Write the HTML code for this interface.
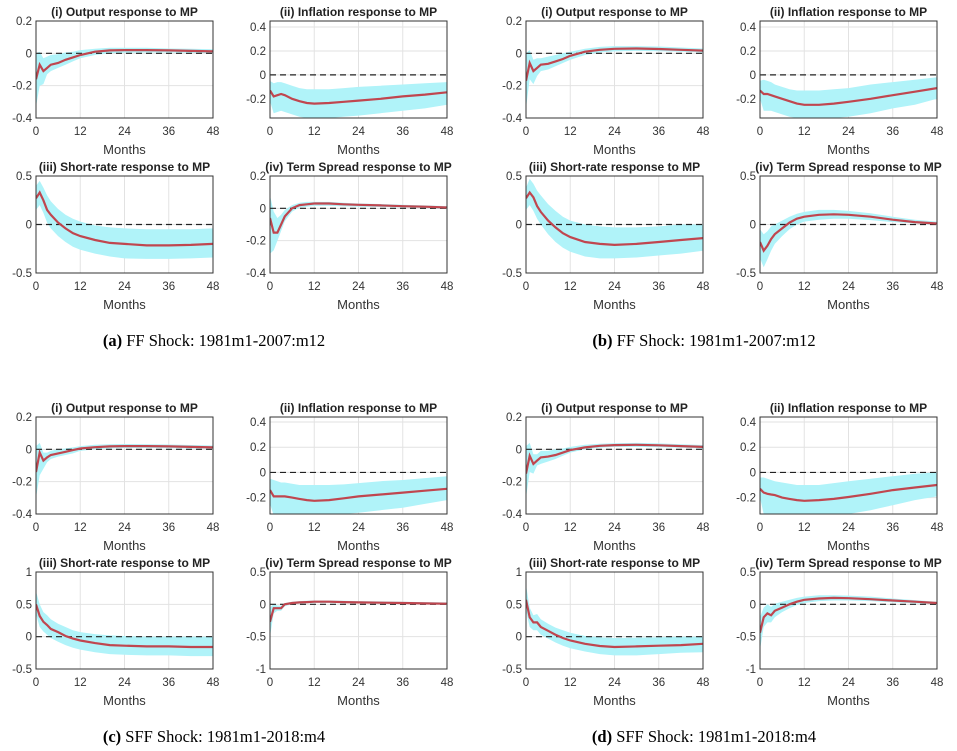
<!DOCTYPE html>
<html><head><meta charset="utf-8">
<style>
body{margin:0;background:#fff;width:957px;height:751px;overflow:hidden}
svg{display:block}
.tt{font:bold 12px "Liberation Sans",sans-serif;fill:#222}
.tk{font:11.5px "Liberation Sans",sans-serif;fill:#333}
.xl{font:13px "Liberation Sans",sans-serif;fill:#333}
.cap{font:16.5px "Liberation Serif",serif;fill:#000}
</style></head>
<body>
<svg id="fig" width="957" height="751"></svg>
<script>
const months=[0,1,2,3,4,6,8,10,12,16,20,24,30,36,42,48];
const titles=["(i) Output response to MP","(ii) Inflation response to MP","(iii) Short-rate response to MP","(iv) Term Spread response to MP"];
const xTicks=[0,12,24,36,48];
const captionsBold=["(a)","(b)","(c)","(d)"];
const captionsText=[" FF Shock: 1981m1-2007:m12"," FF Shock: 1981m1-2007:m12"," SFF Shock: 1981m1-2018:m4"," SFF Shock: 1981m1-2018:m4"];
const ylims=[
 [[-0.4,0.2],[-0.36,0.45],[-0.5,0.5],[-0.4,0.2]],
 [[-0.4,0.2],[-0.36,0.45],[-0.5,0.5],[-0.5,0.5]],
 [[-0.4,0.2],[-0.33,0.44],[-0.5,1],[-1,0.5]],
 [[-0.4,0.2],[-0.33,0.44],[-0.5,1],[-1,0.5]]];
const yticks=[
 [[-0.4,-0.2,0,0.2],[-0.2,0,0.2,0.4],[-0.5,0,0.5],[-0.4,-0.2,0,0.2]],
 [[-0.4,-0.2,0,0.2],[-0.2,0,0.2,0.4],[-0.5,0,0.5],[-0.5,0,0.5]],
 [[-0.4,-0.2,0,0.2],[-0.2,0,0.2,0.4],[-0.5,0,0.5,1],[-1,-0.5,0,0.5]],
 [[-0.4,-0.2,0,0.2],[-0.2,0,0.2,0.4],[-0.5,0,0.5,1],[-1,-0.5,0,0.5]]];
const aMid=[[-0.16,-0.07,-0.11,-0.09,-0.07,-0.06,-0.04,-0.025,-0.01,0.01,0.018,0.02,0.02,0.018,0.015,0.012],
 [-0.13,-0.18,-0.17,-0.16,-0.17,-0.2,-0.22,-0.235,-0.24,-0.235,-0.225,-0.215,-0.2,-0.18,-0.165,-0.145],
 [0.27,0.33,0.25,0.15,0.1,0.02,-0.04,-0.09,-0.12,-0.16,-0.19,-0.2,-0.215,-0.215,-0.21,-0.2],
 [-0.06,-0.15,-0.15,-0.1,-0.05,0,0.02,0.025,0.03,0.03,0.025,0.022,0.018,0.013,0.01,0.005]];
const aLo=[[-0.33,-0.2,-0.19,-0.13,-0.11,-0.09,-0.07,-0.05,-0.03,-0.01,0,0.003,0.005,0.005,0.003,0],
 [-0.22,-0.32,-0.31,-0.3,-0.31,-0.33,-0.35,-0.36,-0.37,-0.36,-0.35,-0.34,-0.32,-0.3,-0.28,-0.25],
 [0.15,0.2,0.12,0.02,-0.04,-0.12,-0.18,-0.23,-0.26,-0.3,-0.33,-0.35,-0.355,-0.355,-0.35,-0.34],
 [-0.28,-0.26,-0.2,-0.14,-0.08,-0.02,0.005,0.01,0.015,0.015,0.012,0.01,0.008,0.005,0.002,-0.005]];
const aHi=[[0,0.01,-0.03,-0.02,-0.01,-0.005,0.005,0.01,0.02,0.028,0.035,0.035,0.035,0.03,0.028,0.025],
 [-0.05,-0.07,-0.06,-0.06,-0.07,-0.09,-0.11,-0.12,-0.12,-0.12,-0.11,-0.1,-0.09,-0.08,-0.07,-0.06],
 [0.4,0.45,0.38,0.3,0.24,0.16,0.1,0.06,0.03,-0.01,-0.03,-0.04,-0.05,-0.05,-0.05,-0.04],
 [0.08,-0.02,-0.06,-0.04,-0.01,0.02,0.035,0.04,0.04,0.04,0.035,0.03,0.027,0.022,0.018,0.014]];
const bMid=[[-0.17,-0.06,-0.11,-0.09,-0.07,-0.065,-0.05,-0.035,-0.015,0.01,0.022,0.028,0.03,0.027,0.022,0.017],
 [-0.13,-0.16,-0.16,-0.17,-0.18,-0.2,-0.22,-0.24,-0.25,-0.25,-0.24,-0.225,-0.2,-0.17,-0.14,-0.11],
 [0.27,0.33,0.28,0.19,0.13,0.04,-0.03,-0.09,-0.13,-0.18,-0.2,-0.21,-0.2,-0.18,-0.16,-0.14],
 [-0.18,-0.27,-0.22,-0.15,-0.1,-0.04,0.02,0.06,0.08,0.1,0.105,0.1,0.08,0.05,0.025,0.01]];
const bLo=[[-0.34,-0.16,-0.19,-0.14,-0.11,-0.1,-0.08,-0.06,-0.04,-0.01,0.005,0.012,0.015,0.013,0.01,0.005],
 [-0.2,-0.3,-0.3,-0.3,-0.31,-0.33,-0.35,-0.36,-0.37,-0.37,-0.36,-0.35,-0.32,-0.28,-0.25,-0.2],
 [0.15,0.2,0.14,0.06,0,-0.1,-0.18,-0.24,-0.28,-0.33,-0.35,-0.35,-0.34,-0.32,-0.3,-0.27],
 [-0.35,-0.44,-0.36,-0.27,-0.2,-0.12,-0.05,0,0.03,0.05,0.06,0.06,0.045,0.025,0.01,-0.005]];
const bHi=[[0,0.02,-0.04,-0.03,-0.03,-0.02,-0.01,0,0.01,0.028,0.04,0.045,0.045,0.042,0.036,0.03],
 [-0.05,-0.04,-0.05,-0.06,-0.08,-0.1,-0.12,-0.13,-0.13,-0.13,-0.12,-0.11,-0.08,-0.06,-0.04,-0.02],
 [0.38,0.47,0.42,0.35,0.3,0.21,0.14,0.08,0.04,0,-0.02,-0.03,-0.03,-0.02,0,0],
 [-0.05,-0.1,-0.07,-0.02,0,0.04,0.08,0.11,0.13,0.15,0.15,0.14,0.115,0.08,0.05,0.03]];
const cMid=[[-0.14,-0.02,-0.07,-0.05,-0.035,-0.025,-0.015,-0.005,0.005,0.013,0.018,0.02,0.02,0.018,0.015,0.012],
 [-0.14,-0.19,-0.19,-0.19,-0.19,-0.2,-0.21,-0.22,-0.225,-0.22,-0.205,-0.19,-0.175,-0.16,-0.145,-0.13],
 [0.5,0.32,0.23,0.18,0.12,0.07,0.01,-0.03,-0.06,-0.1,-0.13,-0.14,-0.15,-0.15,-0.16,-0.16],
 [-0.27,-0.06,-0.06,-0.06,0,0.02,0.03,0.035,0.04,0.04,0.035,0.03,0.025,0.02,0.015,0.01]];
const cLo=[[-0.3,-0.16,-0.12,-0.08,-0.06,-0.045,-0.035,-0.025,-0.01,0,0.005,0.008,0.008,0.007,0.005,0.003],
 [-0.25,-0.34,-0.34,-0.34,-0.34,-0.34,-0.34,-0.34,-0.34,-0.34,-0.33,-0.32,-0.3,-0.28,-0.25,-0.22],
 [0.35,0.15,0.08,0.03,-0.02,-0.08,-0.13,-0.17,-0.2,-0.24,-0.27,-0.28,-0.29,-0.29,-0.3,-0.3],
 [-0.5,-0.14,-0.1,-0.1,-0.03,0,0.01,0.015,0.02,0.02,0.018,0.015,0.01,0.005,0,-0.005]];
const cHi=[[0.02,0.04,-0.02,-0.02,-0.01,0,0.005,0.012,0.02,0.028,0.032,0.033,0.032,0.03,0.027,0.024],
 [-0.05,-0.06,-0.07,-0.08,-0.08,-0.09,-0.1,-0.1,-0.1,-0.1,-0.095,-0.085,-0.07,-0.06,-0.045,-0.03],
 [0.7,0.5,0.38,0.33,0.27,0.2,0.15,0.1,0.07,0.04,0.02,0.01,0,0,0,0],
 [-0.05,0.01,-0.02,-0.02,0.02,0.04,0.05,0.055,0.06,0.06,0.055,0.05,0.045,0.04,0.035,0.03]];
const dMid=[[-0.15,-0.04,-0.09,-0.07,-0.05,-0.045,-0.035,-0.02,-0.005,0.012,0.022,0.026,0.028,0.025,0.02,0.015],
 [-0.13,-0.16,-0.17,-0.175,-0.18,-0.2,-0.21,-0.22,-0.225,-0.22,-0.21,-0.195,-0.17,-0.14,-0.12,-0.1],
 [0.57,0.3,0.22,0.22,0.15,0.09,0.03,-0.02,-0.06,-0.11,-0.145,-0.16,-0.15,-0.14,-0.13,-0.11],
 [-0.44,-0.2,-0.14,-0.17,-0.1,-0.05,0,0.04,0.07,0.09,0.1,0.095,0.08,0.06,0.04,0.02]];
const dLo=[[-0.3,-0.14,-0.15,-0.1,-0.09,-0.075,-0.06,-0.04,-0.02,0,0.01,0.015,0.015,0.013,0.01,0.005],
 [-0.2,-0.33,-0.34,-0.34,-0.35,-0.35,-0.35,-0.35,-0.35,-0.35,-0.34,-0.33,-0.3,-0.26,-0.22,-0.19],
 [0.4,0.15,0.1,0.1,0.03,-0.03,-0.09,-0.14,-0.18,-0.23,-0.27,-0.29,-0.29,-0.27,-0.25,-0.24],
 [-0.7,-0.35,-0.28,-0.28,-0.2,-0.12,-0.06,-0.01,0.02,0.05,0.06,0.06,0.05,0.03,0.015,0]];
const dHi=[[0.02,0.04,-0.03,-0.03,-0.01,-0.01,0,0.005,0.015,0.028,0.035,0.038,0.04,0.037,0.032,0.027],
 [-0.04,-0.04,-0.05,-0.06,-0.07,-0.08,-0.09,-0.1,-0.1,-0.1,-0.085,-0.07,-0.05,-0.03,-0.01,0],
 [0.8,0.45,0.33,0.35,0.27,0.2,0.14,0.1,0.06,0.01,-0.01,-0.02,-0.015,-0.01,0,0],
 [-0.2,-0.05,0,-0.04,0.01,0.04,0.07,0.1,0.12,0.14,0.14,0.135,0.12,0.09,0.065,0.04]];

const MID=[aMid,bMid,cMid,dMid], LO=[aLo,bLo,cLo,dLo], HI=[aHi,bHi,cHi,dHi];
const NS="http://www.w3.org/2000/svg";
const svg=document.getElementById('fig');
function el(tag,attrs,parent,txt){const e=document.createElementNS(NS,tag);for(const k in attrs)e.setAttribute(k,attrs[k]);if(txt!==undefined)e.textContent=txt;(parent||svg).appendChild(e);return e;}
const groupX=[0,490,0,490], groupY=[0,0,396,396];
const panelX=[36,270,36,270], panelY=[21,21,176,176], PW=177, PH=97;
const letters=['a','b','c','d'], pn=['output','inflation','short-rate','term-spread'];
for(let g=0;g<4;g++){
  const G=el('g',{},svg);
  
  
  for(let p=0;p<4;p++){
    const x0=groupX[g]+panelX[p], y0=groupY[g]+panelY[p];
    const [ymin,ymax]=ylims[g][p];
    const sx=m=>x0+m/48*PW;
    const sy=v=>y0+PH-(v-ymin)/(ymax-ymin)*PH;
    const P=el('g',{},G);
    
    
    const cid='c'+g+p;
    const cp=el('clipPath',{id:cid},P);el('rect',{x:x0,y:y0,width:PW,height:PH},cp);
    xTicks.forEach(t=>{ if(t>0&&t<48){const l=el('line',{x1:sx(t),x2:sx(t),y1:y0,y2:y0+PH,stroke:'#e2e2e2','stroke-width':1},P);
      }});
    yticks[g][p].forEach(t=>{const l=el('line',{x1:x0,x2:x0+PW,y1:sy(t),y2:sy(t),stroke:'#e2e2e2','stroke-width':1},P);
      });
    const lo=LO[g][p],hi=HI[g][p],mid=MID[g][p];
    let d='M'+months.map((m,i)=>sx(m).toFixed(1)+','+sy(hi[i]).toFixed(1)).join('L');
    for(let i=months.length-1;i>=0;i--) d+='L'+sx(months[i]).toFixed(1)+','+sy(lo[i]).toFixed(1);
    const band=el('path',{d:d+'Z',fill:'#b0f3f9','clip-path':'url(#'+cid+')'},P);
    
    const z=el('line',{x1:x0,x2:x0+PW,y1:sy(0),y2:sy(0),stroke:'#222','stroke-width':1.2,'stroke-dasharray':'6,4'},P);
    
    const ln=el('polyline',{points:months.map((m,i)=>sx(m).toFixed(1)+','+sy(mid[i]).toFixed(1)).join(' '),fill:'none',stroke:'#c0464f','stroke-width':2.2,'clip-path':'url(#'+cid+')'},P);
    
    const box=el('rect',{x:x0,y:y0,width:PW,height:PH,fill:'none',stroke:'#333','stroke-width':1},P);
    
    xTicks.forEach(t=>{const tl=el('text',{x:sx(t),y:y0+PH+17,'text-anchor':'middle',class:'tk'},P,String(t));
      });
    yticks[g][p].forEach(t=>{const tl=el('text',{x:x0-4,y:sy(t)+4,'text-anchor':'end',class:'tk'},P,String(t));
      });
    const xl=el('text',{x:x0+PW/2,y:y0+PH+36,'text-anchor':'middle',class:'xl'},P,'Months');
    
    const tt=el('text',{x:x0+PW/2,y:y0-5,'text-anchor':'middle',class:'tt'},P,titles[p]);
    
  }
  const cx=groupX[g]+214, cy=groupY[g]+346;
  const cap=el('text',{x:cx,y:cy,'text-anchor':'middle',class:'cap'},G);
  
  el('tspan',{'font-weight':'bold'},cap,captionsBold[g]);
  el('tspan',{},cap,captionsText[g]);
}
</script>
</body></html>
